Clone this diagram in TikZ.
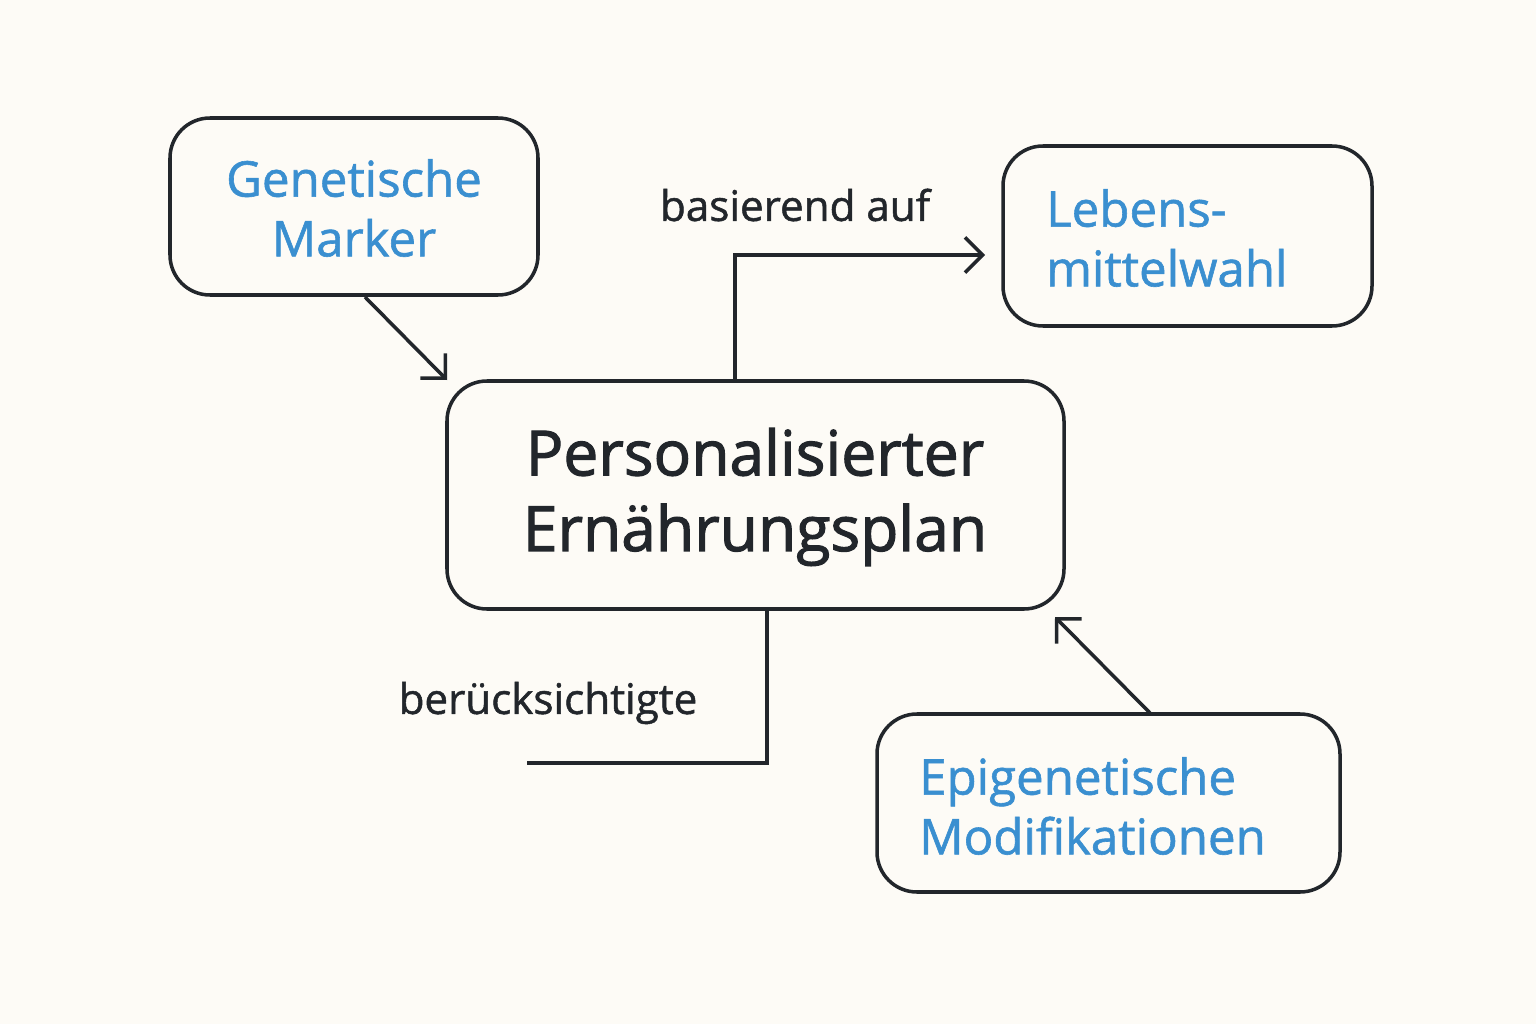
\documentclass[tikz,border=0pt]{standalone}
\usepackage{fontspec}
\setmainfont{Open Sans}
\newfontfamily\med{Open Sans}[FakeBold=1.2]
\newfontfamily\semi{Open Sans}[FakeBold=1.8]
\usetikzlibrary{arrows.meta}
\definecolor{bg}{HTML}{FDFBF6}
\definecolor{ink}{HTML}{22262B}
\definecolor{blu}{HTML}{3A8FD0}
\begin{document}
\begin{tikzpicture}[x=0.02cm,y=-0.02cm,
  box/.style={draw=ink,line width=2pt,rounded corners=0.8cm},
  conn/.style={draw=ink,line width=2pt},
  arr/.style={conn,-{Straight Barb[length=10pt,width=20pt,line width=2pt]}},
  btxt/.style={text=blu,font=\med\fontsize{28}{34}\selectfont,align=left},
  lbl/.style={text=ink,font=\med\fontsize{24}{28}\selectfont}]
\fill[bg] (0,0) rectangle (1536,1024);
\useasboundingbox (0,0) rectangle (1536,1024);
\draw[box] (170,118) rectangle (538,295);
\node[btxt,align=center] (gm) at (354,208) {Genetische\\Marker};
\draw[box] (1003,146) rectangle (1372,326);
\node[btxt,anchor=west] (lm) at (1040,238) {Lebens-\\mittelwahl};
\draw[box] (447,381) rectangle (1064,609);
\node[text=ink,font=\semi\fontsize{35.5}{43}\selectfont,align=center] (pe) at (755,497) {Personalisierter\\Ernährungsplan};
\draw[box] (877,714) rectangle (1340,892);
\node[btxt,anchor=west] (ep) at (913,806) {Epigenetische\\Modifikationen};
\coordinate (a1) at (365,297); \coordinate (a2) at (447,380);
\draw[arr] (a1) -- (a2);
\coordinate (b1) at (735,381); \coordinate (b2) at (985,255);
\draw[arr] (b1) |- (b2);
\node[lbl] (l1) at (795,205) {basierend auf};
\coordinate (c1) at (767,609); \coordinate (c2) at (527,763);
\draw[conn] (c1) |- (c2);
\node[lbl] (l2) at (548,703) {berücksichtigte};
\coordinate (d1) at (1150,713); \coordinate (d2) at (1055,617);
\draw[arr] (d1) -- (d2);
\end{tikzpicture}
\end{document}
